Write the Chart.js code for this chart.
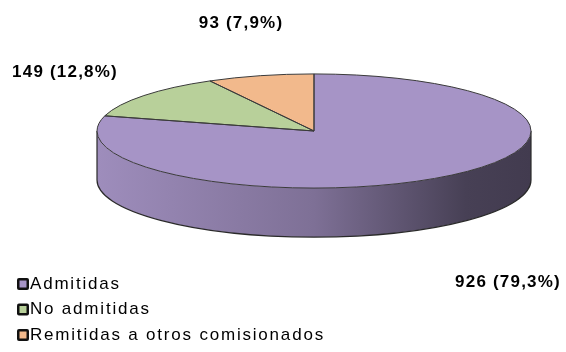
<!DOCTYPE html>
<html lang="es">
<head>
<meta charset="UTF-8">
<title>Quejas recibidas</title>
<script src="https://cdn.jsdelivr.net/npm/chart.js"></script>
<style>
  body{margin:0;background:#fff}
  #marco{width:566px;height:352px}
</style>
</head>
<body>
<div id="marco"><canvas id="grafico" width="566" height="352"></canvas></div>
<script>
/* ---------- datos ---------- */
const categorias  = ["Admitidas", "No admitidas", "Remitidas a otros comisionados"];
const valores     = [926, 149, 93];
const porcentajes = [79.3, 12.8, 7.9];
const colores     = ["#a694c6", "#b8d09a", "#f2b98c"];

/* ---------- aspecto 3D ---------- */
const ACHATE = 0.263;   // alto/ancho de la elipse
const GROSOR = 49;      // alto del lateral

function sombra(hex, f){
  const n = parseInt(hex.slice(1), 16);
  const r = Math.round(((n >> 16) & 255) * f), g = Math.round(((n >> 8) & 255) * f), b = Math.round((n & 255) * f);
  return `rgb(${r},${g},${b})`;
}

const tarta3d = {
  id: "tarta3d",
  beforeDatasetsDraw(chart){
    const ctx = chart.ctx;
    const arcos = chart.getDatasetMeta(0).data;
    const {x: cx, y: cy, outerRadius: r} = arcos[0];
    const ry = r * ACHATE;

    // lateral (solo la mitad delantera)
    arcos.forEach((a, i) => {
      const s = Math.max(a.startAngle, 0), e = Math.min(a.endAngle, Math.PI);
      if(e <= s) return;
      const gr = ctx.createLinearGradient(cx - r, 0, cx + r, 0);
      gr.addColorStop(0, sombra(colores[i], 0.95));
      gr.addColorStop(0.5, sombra(colores[i], 0.76));
      gr.addColorStop(0.85, sombra(colores[i], 0.43));
      gr.addColorStop(1, sombra(colores[i], 0.40));
      ctx.beginPath();
      ctx.ellipse(cx, cy, r, ry, 0, s, e);
      ctx.ellipse(cx, cy + GROSOR, r, ry, 0, e, s, true);
      ctx.closePath();
      ctx.fillStyle = gr;
      ctx.fill();
    });
    ctx.strokeStyle = "#2a2a2a";
    ctx.lineWidth = 1.2;
    ctx.beginPath();
    ctx.moveTo(cx + r, cy);
    ctx.lineTo(cx + r, cy + GROSOR);
    ctx.ellipse(cx, cy + GROSOR, r, ry, 0, 0, Math.PI);
    ctx.lineTo(cx - r, cy);
    ctx.stroke();

    // la tapa se dibuja achatada
    ctx.save();
    ctx.translate(cx, cy);
    ctx.scale(1, ACHATE);
    ctx.translate(-cx, -cy);
  },
  afterDatasetsDraw(chart){
    const ctx = chart.ctx;
    ctx.restore();
    const arcos = chart.getDatasetMeta(0).data;
    const {x: cx, y: cy, outerRadius: r} = arcos[0];
    ctx.strokeStyle = "#3a3a3a";
    ctx.lineWidth = 1;
    arcos.forEach(a => {
      ctx.beginPath();
      ctx.moveTo(cx, cy);
      ctx.ellipse(cx, cy, r, r * ACHATE, 0, a.startAngle, a.endAngle);
      ctx.closePath();
      ctx.stroke();
    });
  },
  afterDraw(chart){
    const ctx = chart.ctx;
    const {x: cx, y: cy} = chart.getDatasetMeta(0).data[0];
    // etiquetas de valor (desplazamiento desde el centro)
    const desp = [[194, 151], [-249, -59], [-73, -108]];
    ctx.save();
    ctx.fillStyle = "#000";
    ctx.font = "bold 17px Arial";
    ctx.letterSpacing = "1.2px";
    ctx.textAlign = "center";
    ctx.textBaseline = "middle";
    valores.forEach((v, i) => {
      const txt = `${v} (${porcentajes[i].toFixed(1).replace(".", ",")}%)`;
      ctx.fillText(txt, cx + desp[i][0], cy + desp[i][1]);
    });

    // leyenda vertical abajo a la izquierda
    ctx.font = "17px Arial";
    ctx.letterSpacing = "1.8px";
    ctx.textAlign = "left";
    categorias.forEach((c, i) => {
      const y = 284 + i * 25.5;
      ctx.fillStyle = "#111";
      ctx.beginPath();
      ctx.roundRect(17, y - 6, 12, 12, 2);
      ctx.fill();
      ctx.fillStyle = colores[i];
      ctx.fillRect(19.5, y - 3.5, 7, 7);
      ctx.fillStyle = "#000";
      ctx.fillText(c, 30, y);
    });
    ctx.restore();
  }
};

new Chart(document.getElementById("grafico"), {
  type: "pie",
  data: {
    labels: categorias,
    datasets: [{
      data: valores,
      backgroundColor: colores,
      borderWidth: 0,
      clip: false
    }]
  },
  options: {
    responsive: false,
    animation: false,
    radius: 217,
    layout: {padding: {left: 62, right: 0, top: 0, bottom: 90}},
    plugins: {legend: {display: false}, tooltip: {enabled: false}}
  },
  plugins: [tarta3d]
});
</script>
</body>
</html>
